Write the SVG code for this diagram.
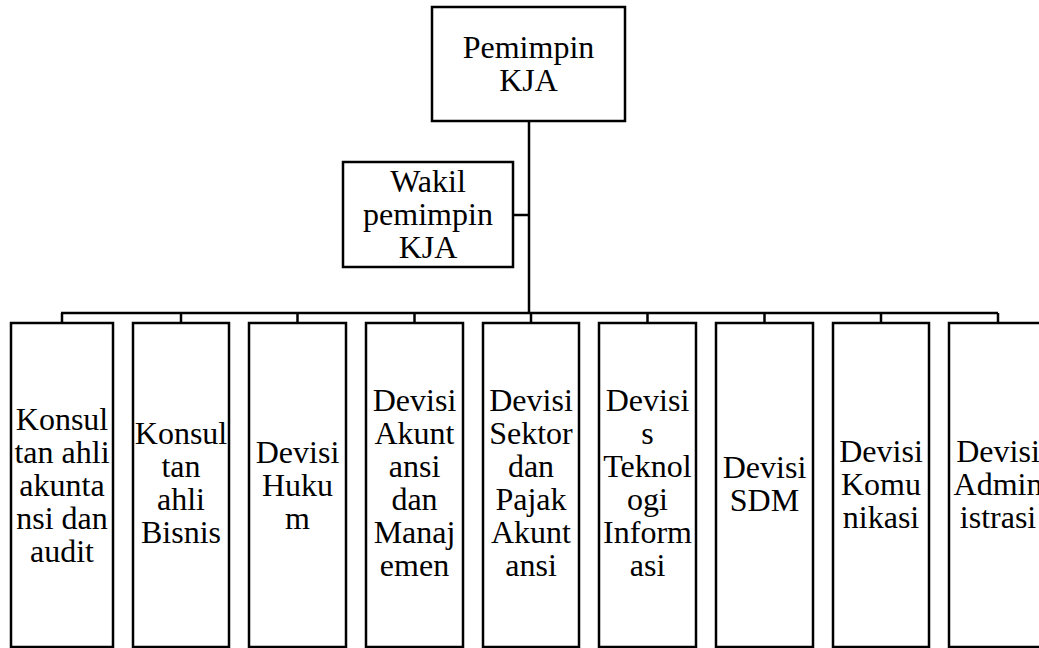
<svg xmlns="http://www.w3.org/2000/svg" width="1039" height="648" viewBox="0 0 1039 648">
<style>
.box{fill:#fff;stroke:#000;stroke-width:2.5}
.ln{stroke:#000;stroke-width:2.5;fill:none}
.t{font-family:"Liberation Serif","Times New Roman",serif;font-size:32px;fill:#000;text-anchor:middle}
</style>
<rect width="1039" height="648" fill="#fff"/>
<g id="connectors">
<line class="ln" x1="529" y1="121" x2="529" y2="313" stroke-width="3.5"/>
<line class="ln" x1="513" y1="215" x2="529" y2="215"/>
<line class="ln" x1="61" y1="313" x2="998" y2="313" stroke-width="3"/>
<line class="ln" x1="62" y1="313" x2="62" y2="323"/>
<line class="ln" x1="181" y1="313" x2="181" y2="323"/>
<line class="ln" x1="297.5" y1="313" x2="297.5" y2="323"/>
<line class="ln" x1="414.5" y1="313" x2="414.5" y2="323"/>
<line class="ln" x1="531" y1="313" x2="531" y2="323"/>
<line class="ln" x1="647.5" y1="313" x2="647.5" y2="323"/>
<line class="ln" x1="764.5" y1="313" x2="764.5" y2="323"/>
<line class="ln" x1="881" y1="313" x2="881" y2="323"/>
<line class="ln" x1="998" y1="313" x2="998" y2="323"/>
</g>
<g id="pemimpin">
<rect class="box" x="432" y="7" width="193" height="114"/>
<text class="t" x="528.5" y="58">Pemimpin</text>
<text class="t" x="528.5" y="91">KJA</text>
</g>
<g id="wakil">
<rect class="box" x="343" y="162" width="170" height="105"/>
<text class="t" x="428" y="191.5">Wakil</text>
<text class="t" x="428" y="224.5">pemimpin</text>
<text class="t" x="428" y="257.5">KJA</text>
</g>
<g id="n1">
<rect class="box" x="11" y="323" width="102" height="324"/>
<text class="t" x="62" y="430"><tspan x="62">Konsul</tspan><tspan x="62" dy="33">tan ahli</tspan><tspan x="62" dy="33">akunta</tspan><tspan x="62" dy="33">nsi dan</tspan><tspan x="62" dy="33">audit</tspan></text>
</g>
<g id="n2">
<rect class="box" x="133" y="323" width="96" height="324"/>
<text class="t" x="181" y="444"><tspan x="181">Konsul</tspan><tspan x="181" dy="33">tan</tspan><tspan x="181" dy="33">ahli</tspan><tspan x="181" dy="33">Bisnis</tspan></text>
</g>
<g id="n3">
<rect class="box" x="249" y="323" width="97" height="324"/>
<text class="t" x="297.5" y="463"><tspan x="297.5">Devisi</tspan><tspan x="297.5" dy="33">Huku</tspan><tspan x="297.5" dy="33">m</tspan></text>
</g>
<g id="n4">
<rect class="box" x="366" y="323" width="97" height="324"/>
<text class="t" x="414.5" y="411"><tspan x="414.5">Devisi</tspan><tspan x="414.5" dy="33">Akunt</tspan><tspan x="414.5" dy="33">ansi</tspan><tspan x="414.5" dy="33">dan</tspan><tspan x="414.5" dy="33">Manaj</tspan><tspan x="414.5" dy="33">emen</tspan></text>
</g>
<g id="n5">
<rect class="box" x="483" y="323" width="96" height="324"/>
<text class="t" x="531" y="411"><tspan x="531">Devisi</tspan><tspan x="531" dy="33">Sektor</tspan><tspan x="531" dy="33">dan</tspan><tspan x="531" dy="33">Pajak</tspan><tspan x="531" dy="33">Akunt</tspan><tspan x="531" dy="33">ansi</tspan></text>
</g>
<g id="n6">
<rect class="box" x="599" y="323" width="97" height="324"/>
<text class="t" x="647.5" y="411"><tspan x="647.5">Devisi</tspan><tspan x="647.5" dy="33">s</tspan><tspan x="647.5" dy="33">Teknol</tspan><tspan x="647.5" dy="33">ogi</tspan><tspan x="647.5" dy="33">Inform</tspan><tspan x="647.5" dy="33">asi</tspan></text>
</g>
<g id="n7">
<rect class="box" x="716" y="323" width="97" height="324"/>
<text class="t" x="764.5" y="478"><tspan x="764.5">Devisi</tspan><tspan x="764.5" dy="33">SDM</tspan></text>
</g>
<g id="n8">
<rect class="box" x="833" y="323" width="96" height="324"/>
<text class="t" x="881" y="462"><tspan x="881">Devisi</tspan><tspan x="881" dy="33">Komu</tspan><tspan x="881" dy="33">nikasi</tspan></text>
</g>
<g id="n9">
<rect class="box" x="949" y="323" width="97" height="324"/>
<text class="t" x="998" y="462"><tspan x="998">Devisi</tspan><tspan x="998" dy="33">Admin</tspan><tspan x="998" dy="33">istrasi</tspan></text>
</g>
</svg>
